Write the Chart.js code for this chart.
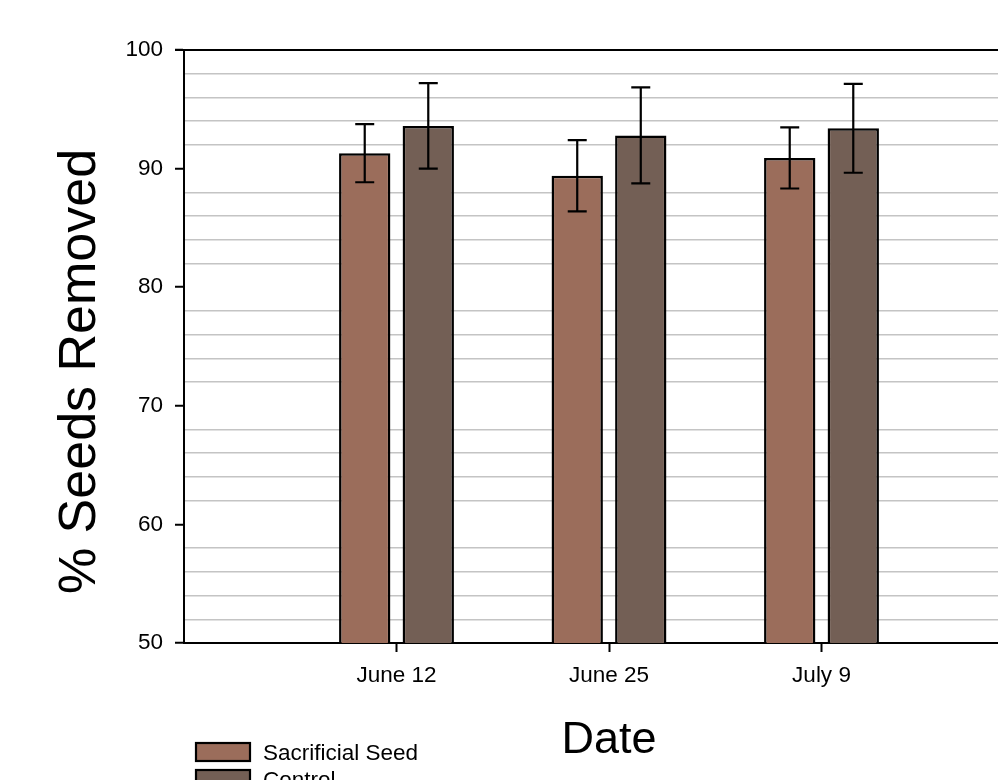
<!DOCTYPE html>
<html>
<head>
<meta charset="utf-8">
<script src="https://cdn.jsdelivr.net/npm/chart.js@4.4.1/dist/chart.umd.min.js"></script>
<style>
  html, body { margin: 0; padding: 0; background: #ffffff; overflow: hidden; }
  #wrap { width: 998px; height: 780px; overflow: hidden; position: relative; }
  canvas { display: block; }
</style>
</head>
<body>
<div id="wrap"><canvas id="chart" width="1060" height="800"></canvas></div>
<script>
// Sampling dates
const dates = ['June 12', 'June 25', 'July 9'];
// Mean % of seeds removed and error (±) for each treatment
const sacrificialSeed = [91.3, 89.4, 90.9];
const sacrificialErr  = [2.45, 3.0, 2.58];
const control         = [93.6, 92.8, 93.4];
const controlErr      = [3.6, 4.05, 3.75];
// Y axis range and labelled ticks
const yMin = 50, yMax = 100, yMinorStep = 2, yMajorStep = 10;

const FONT = "'Liberation Sans', Arial, Helvetica, sans-serif";

// Empty slots on each side of the dates give the axis its extra room
const labels = [''].concat(dates, ['']);
const pad = arr => [null].concat(arr, [null]);

const errorBars = {
  id: 'errorBars',
  afterDatasetsDraw(chart) {
    const ctx = chart.ctx;
    const y = chart.scales.y;
    ctx.save();
    ctx.strokeStyle = '#000';
    ctx.lineWidth = 2.2;
    chart.data.datasets.forEach((ds, di) => {
      const meta = chart.getDatasetMeta(di);
      meta.data.forEach((bar, i) => {
        const v = ds.data[i];
        const e = ds.errors[i];
        if (v == null || e == null) return;
        const x = bar.x;
        const yTop = y.getPixelForValue(v + e);
        const yBot = y.getPixelForValue(v - e);
        const cap = 9.5;
        ctx.beginPath();
        ctx.moveTo(x, yTop); ctx.lineTo(x, yBot);
        ctx.moveTo(x - cap, yTop); ctx.lineTo(x + cap, yTop);
        ctx.moveTo(x - cap, yBot); ctx.lineTo(x + cap, yBot);
        ctx.stroke();
      });
    });
    ctx.restore();
  }
};

const frameAndText = {
  id: 'frameAndText',
  afterDraw(chart) {
    const ctx = chart.ctx;
    const a = chart.chartArea;
    ctx.save();
    // top frame line
    ctx.strokeStyle = '#000';
    ctx.lineWidth = 2;
    ctx.beginPath();
    ctx.moveTo(a.left - 9, a.top);
    ctx.lineTo(a.right, a.top);
    ctx.stroke();

    ctx.fillStyle = '#000';
    // x axis title
    ctx.font = '45px ' + FONT;
    ctx.textAlign = 'center';
    ctx.textBaseline = 'alphabetic';
    ctx.fillText('Date', (a.left + a.right) / 2, a.bottom + 110);

    // y axis title
    ctx.save();
    ctx.translate(a.left - 89, (a.top + a.bottom) / 2 + 25);
    ctx.rotate(-Math.PI / 2);
    ctx.font = '52px ' + FONT;
    ctx.textAlign = 'center';
    ctx.fillText('% Seeds Removed', 0, 0);
    ctx.restore();

    // legend
    ctx.font = '22.5px ' + FONT;
    ctx.textAlign = 'left';
    chart.data.datasets.forEach((ds, i) => {
      const bx = a.left + 12;
      const by = a.bottom + 100 + i * 27;
      ctx.fillStyle = ds.backgroundColor;
      ctx.fillRect(bx, by, 54, 18);
      ctx.lineWidth = 2.2;
      ctx.strokeStyle = '#000';
      ctx.strokeRect(bx, by, 54, 18);
      ctx.fillStyle = '#000';
      ctx.fillText(ds.label, bx + 67, by + 17);
    });
    ctx.restore();
  }
};

new Chart(document.getElementById('chart'), {
  type: 'bar',
  data: {
    labels: labels,
    datasets: [
      {
        label: 'Sacrificial Seed',
        data: pad(sacrificialSeed),
        errors: pad(sacrificialErr),
        backgroundColor: '#9b6d5b',
        borderColor: '#000',
        borderWidth: 2.5,
        borderSkipped: false
      },
      {
        label: 'Control',
        data: pad(control),
        errors: pad(controlErr),
        backgroundColor: '#735f55',
        borderColor: '#000',
        borderWidth: 2.5,
        borderSkipped: false
      }
    ]
  },
  options: {
    responsive: false,
    animation: false,
    devicePixelRatio: 1,
    categoryPercentage: 0.598,
    barPercentage: 0.808,
    layout: { padding: { top: 50, right: 26, left: 0, bottom: 0 } },
    plugins: {
      legend: { display: false },
      tooltip: { enabled: false }
    },
    scales: {
      x: {
        offset: false,
        afterFit(s) { s.height = 157; },
        grid: {
          offset: false,
          drawOnChartArea: false,
          drawTicks: true,
          tickLength: 9,
          tickWidth: 2,
          tickColor: c => (labels[c.index] ? '#000' : 'rgba(0,0,0,0)')
        },
        border: { display: true, color: '#000', width: 2 },
        ticks: {
          autoSkip: false,
          maxRotation: 0,
          padding: 10,
          color: '#000',
          font: { family: FONT, size: 22.5 }
        }
      },
      y: {
        min: yMin,
        max: yMax,
        afterFit(s) { s.width = 184; },
        grid: {
          drawTicks: true,
          tickLength: 9,
          tickWidth: 2,
          lineWidth: 1.5,
          color: c => (c.tick.value % yMajorStep === 0 ? 'rgba(0,0,0,0)' : '#c4c4c4'),
          tickColor: c => (c.tick.value % yMajorStep === 0 ? '#000' : 'rgba(0,0,0,0)')
        },
        border: { display: true, color: '#000', width: 2 },
        ticks: {
          stepSize: yMinorStep,
          autoSkip: false,
          padding: 12,
          color: '#000',
          font: { family: FONT, size: 22.5 },
          callback: v => (v % yMajorStep === 0 ? String(v) : '')
        }
      }
    }
  },
  plugins: [errorBars, frameAndText]
});
</script>
</body>
</html>
